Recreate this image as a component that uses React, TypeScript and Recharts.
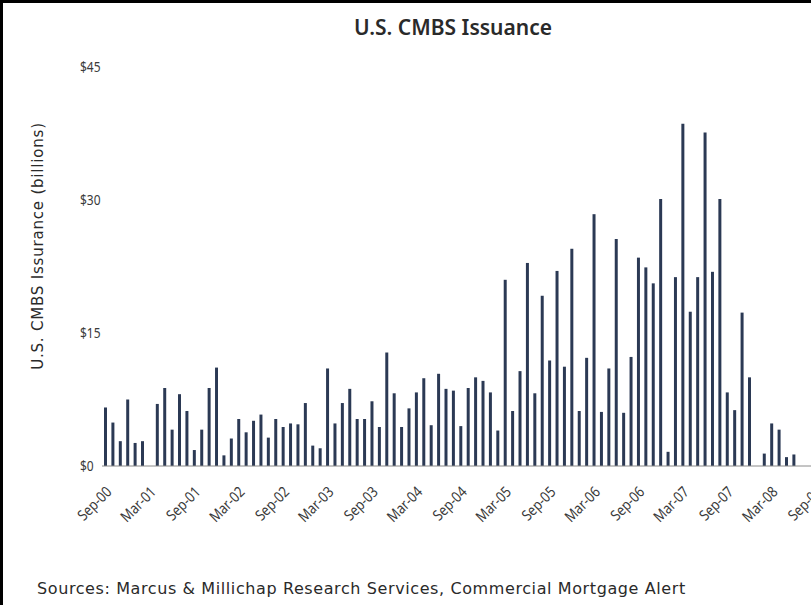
import React from 'react';
import { BarChart, Bar, XAxis, YAxis } from 'recharts';

// monthly issuance, $ billions
const monthNames = ['Jan', 'Feb', 'Mar', 'Apr', 'May', 'Jun', 'Jul', 'Aug', 'Sep', 'Oct', 'Nov', 'Dec'];

const issuance2000 = [6.6, 4.9, 2.8, 7.5]; // Sep-Dec
const issuance2001 = [2.6, 2.8, 0, 7.0, 8.8, 4.1, 8.1, 6.2, 1.8, 4.1, 8.8, 11.1];
const issuance2002 = [1.2, 3.1, 5.3, 3.8, 5.1, 5.8, 3.2, 5.3, 4.4, 4.8, 4.7, 7.1];
const issuance2003 = [2.3, 2.0, 11.0, 4.8, 7.1, 8.7, 5.3, 5.3, 7.3, 4.4, 12.8, 8.2];
const issuance2004 = [4.4, 6.5, 8.3, 9.9, 4.6, 10.4, 8.7, 8.5, 4.5, 8.8, 10.0, 9.6];
const issuance2005 = [8.3, 4.0, 21.0, 6.2, 10.7, 22.9, 8.2, 19.2, 11.9, 22.0, 11.2, 24.5];
const issuance2006 = [6.2, 12.2, 28.4, 6.1, 11.0, 25.6, 6.0, 12.3, 23.5, 22.4, 20.6, 30.1];
const issuance2007 = [1.6, 21.3, 38.6, 17.4, 21.3, 37.6, 21.9, 30.1, 8.3, 6.3, 17.3, 10.0];
const issuance2008 = [0, 1.4, 4.8, 4.1, 1.0, 1.3, 0, 0, 0]; // Jan-Sep

const years = [
  { yy: '00', start: 8, values: issuance2000 },
  { yy: '01', start: 0, values: issuance2001 },
  { yy: '02', start: 0, values: issuance2002 },
  { yy: '03', start: 0, values: issuance2003 },
  { yy: '04', start: 0, values: issuance2004 },
  { yy: '05', start: 0, values: issuance2005 },
  { yy: '06', start: 0, values: issuance2006 },
  { yy: '07', start: 0, values: issuance2007 },
  { yy: '08', start: 0, values: issuance2008 },
];

const yTicks = [0, 15, 30, 45];

const data = years.flatMap(y =>
  y.values.map((v, i) => ({ month: `${monthNames[y.start + i]}-${y.yy}`, value: v }))
);

const font = '"Noto Sans", "DejaVu Sans", sans-serif';
const wideFont = '"DejaVu Sans", "Noto Sans", sans-serif';

// rotated month labels, a bit narrow like the original
const XTick = ({ x, y, payload }: any) => (
  <g transform={`translate(${x + 4},${y + 16})`}>
    <text
      x={0}
      y={0}
      dy={4}
      textAnchor="end"
      transform="rotate(-45) scale(0.85,1)"
      fontSize={15}
      fontFamily={font}
      fill="#3a3a3a"
    >
      {payload.value}
    </text>
  </g>
);

const YTick = ({ y, payload }: any) => (
  <text
    transform={`translate(80,${y}) scale(0.8,1)`}
    dy={5}
    textAnchor="start"
    fontSize={15}
    fontFamily={font}
    fill="#3a3a3a"
  >
    ${payload.value}
  </text>
);

const App = () => {
  return <div style={{
      position: 'fixed', left: 0, top: 0, width: 811, height: 605,
      overflow: 'hidden', background: '#fff', fontFamily: font
    }}>
      <div style={{ position: 'absolute', left: 0, top: 0, width: 3, height: 605, background: '#000' }} />
      <div style={{ position: 'absolute', left: 0, top: 0, width: 811, height: 3, background: '#000' }} />

      <div style={{
        position: 'absolute', left: 253, width: 400, top: 13, textAlign: 'center',
        fontSize: 21, fontWeight: 600, color: '#2a2a2a'
      }}>
        U.S. CMBS Issuance
      </div>

      <div style={{
        position: 'absolute', left: 38, top: 247, width: 0, height: 0
      }}>
        <div style={{
          position: 'absolute', left: -160, top: -10, width: 320, textAlign: 'center',
          transform: 'rotate(-90deg)', fontSize: 15, letterSpacing: 0.8, fontFamily: wideFont,
          color: '#2a2a2a', whiteSpace: 'nowrap'
        }}>
          U.S. CMBS Issurance (billions)
        </div>
      </div>

      <div style={{
        position: 'absolute', left: 37, top: 579, fontSize: 16, letterSpacing: 0.6,
        fontFamily: wideFont, color: '#2a2a2a', whiteSpace: 'nowrap'
      }}>
        Sources: Marcus &amp; Millichap Research Services, Commercial Mortgage Alert
      </div>

      <div style={{ position: 'absolute', left: 0, top: 0 }}>
        <BarChart
          width={830}
          height={605}
          data={data}
          margin={{ top: 67, right: 10, left: 0, bottom: 79 }}
        >
          <XAxis
            dataKey="month"
            interval={5}
            height={60}
            tickLine={false}
            axisLine={{ stroke: '#8a8a8a' }}
            tick={<XTick />}
          />
          <YAxis
            width={102}
            domain={[0, 45]}
            ticks={yTicks}
            axisLine={false}
            tickLine={false}
            tick={<YTick />}
          />
          <Bar dataKey="value" fill="#2b3954" barSize={3} isAnimationActive={false} />
        </BarChart>
      </div>
    </div>;
};

export default App;
